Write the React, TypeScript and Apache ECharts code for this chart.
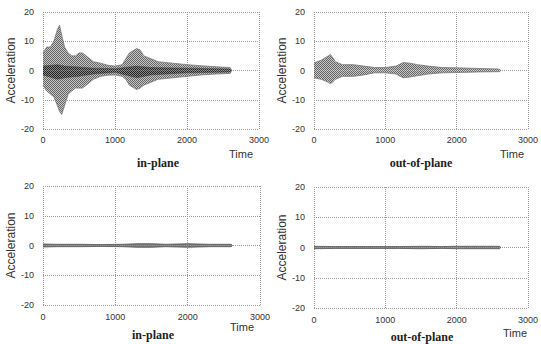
import React, { useEffect, useRef } from "react";
import * as echarts from "echarts";

// Tick labels
const xTicks = [0, 1000, 2000, 3000];
const yTicks = [-20, -10, 0, 10, 20];

// Panel titles
const titles = ["in-plane", "out-of-plane", "in-plane", "out-of-plane"];

// Envelope of the in-plane record (top-left panel)
const t1 = [0, 50, 100, 150, 200, 230, 260, 300, 350, 400, 450, 500, 550, 600, 650, 700, 800, 900, 1000, 1100, 1150, 1200, 1300, 1350, 1400, 1500, 1600, 1800, 2000, 2200, 2400, 2600, 2620];
const up1 = [6, 8, 8, 10, 14, 15.5, 12, 8, 6, 5, 5, 6, 6, 5, 4, 3, 2.5, 1.8, 1.5, 2, 4, 6, 7.5, 7, 5, 4, 3, 2.5, 2, 1.6, 1.3, 1, 0];
const lo1 = [-5, -7, -8, -9, -12, -14, -15, -12, -8, -7, -6, -6, -6, -5, -4, -3, -2, -1.6, -1.5, -2, -3, -5, -6.5, -6, -5, -4, -3, -2.5, -2, -1.5, -1.2, -1, 0];
// darker core of the same record
const tc1 = [0, 200, 300, 500, 700, 1000, 1300, 1500, 2000, 2600, 2620];
const cu1 = [1.5, 2, 1.5, 1.2, 0.8, 0.6, 1.5, 1, 0.8, 0.5, 0];
const cl1 = [-1.5, -3, -2.5, -2, -1.2, -0.6, -2.5, -1.5, -0.8, -0.5, 0];

// Envelope of the out-of-plane record (top-right panel)
const t2 = [0, 100, 200, 230, 260, 300, 400, 550, 700, 850, 1000, 1150, 1250, 1350, 1450, 1600, 1800, 2000, 2300, 2600, 2620];
const up2 = [2.6, 3.5, 5, 5.5, 4.5, 3, 2, 2, 1.5, 1, 1, 1.5, 2.7, 2.5, 2, 1.5, 1, 0.9, 0.7, 0.5, 0];
const lo2 = [-2.5, -3, -4, -4.5, -4, -3, -2, -2, -1.5, -0.8, -0.8, -1.2, -2.5, -2.2, -1.8, -1.2, -0.8, -0.7, -0.5, -0.4, 0];

// Envelope of the in-plane record (bottom-left panel)
const t3 = [0, 200, 500, 800, 1100, 1300, 1500, 1700, 2000, 2300, 2600, 2620];
const up3 = [0.5, 0.4, 0.4, 0.3, 0.4, 0.6, 0.6, 0.4, 0.6, 0.4, 0.4, 0];
const lo3 = [-0.5, -0.4, -0.4, -0.3, -0.4, -0.6, -0.6, -0.4, -0.6, -0.4, -0.4, 0];

// Envelope of the out-of-plane record (bottom-right panel)
const t4 = [0, 300, 600, 900, 1200, 1500, 1800, 2000, 2300, 2600, 2620];
const up4 = [0.4, 0.3, 0.3, 0.3, 0.3, 0.4, 0.3, 0.4, 0.4, 0.4, 0];
const lo4 = [-0.4, -0.3, -0.3, -0.3, -0.3, -0.4, -0.3, -0.4, -0.4, -0.4, 0];

const grids = [
  { left: 43, top: 12, width: 216, height: 117 },
  { left: 314, top: 12, width: 216, height: 117 },
  { left: 43, top: 186, width: 217, height: 119 },
  { left: 314, top: 187, width: 219, height: 121 },
];

const pairs = (ts: number[], vs: number[]) => ts.map((t, i) => [t, vs[i]]);

function makePattern(dark: string, light: string): any {
  const c = document.createElement("canvas");
  c.width = 2;
  c.height = 2;
  const g = c.getContext("2d");
  if (!g) return light;
  g.fillStyle = light;
  g.fillRect(0, 0, 2, 2);
  g.fillStyle = dark;
  g.fillRect(0, 0, 1, 1);
  g.fillRect(1, 1, 1, 1);
  return { image: c, repeat: "repeat" };
}

export default function App() {
  const ref = useRef<HTMLDivElement>(null);
  useEffect(() => {
    if (!ref.current) return;
    const chart = echarts.init(ref.current, undefined, { renderer: "svg" });
    const dotted = { type: "dotted" as const, color: "#9a9a9a", width: 1 };
    const xAxis = grids.map((_, i) => ({
      type: "value" as const,
      gridIndex: i,
      min: xTicks[0],
      max: xTicks[xTicks.length - 1],
      interval: 1000,
      axisLine: { show: false },
      axisTick: { show: false },
      splitLine: { show: true, lineStyle: dotted },
      axisLabel: {
        fontFamily: "Liberation Sans, Arial",
        fontSize: 9,
        color: "#333",
        margin: i < 2 ? 6 : 7,
        formatter: (v: number) => String(v),
      },
    }));
    const yAxis = grids.map((_, i) => ({
      type: "value" as const,
      gridIndex: i,
      min: yTicks[0],
      max: yTicks[yTicks.length - 1],
      interval: 10,
      axisLine: { show: false },
      axisTick: { show: false },
      splitLine: { show: true, lineStyle: dotted },
      axisLabel: { fontFamily: "Liberation Sans, Arial", fontSize: 9, color: "#333", margin: 9 },
      name: "Acceleration",
      nameLocation: "middle" as const,
      nameGap: 22,
      nameTextStyle: { fontFamily: "Liberation Sans, Arial", fontSize: 12, color: "#333" },
    }));
    const midFill = makePattern("#666", "#c4c4c4");
    const coreFill = makePattern("#222", "#888");
    const band = (i: number, ts: number[], vs: number[], fill: any, line: string, w: number) => ({
      type: "line" as const,
      xAxisIndex: i,
      yAxisIndex: i,
      data: pairs(ts, vs),
      symbol: "none",
      silent: true,
      lineStyle: { color: line, width: w },
      areaStyle: { color: fill, opacity: 1, origin: 0 },
      z: 3,
    });
    const series = [
      band(0, t1, up1, midFill, "#777", 0.8),
      band(0, t1, lo1, midFill, "#777", 0.8),
      band(0, tc1, cu1, coreFill, "#444", 0.5),
      band(0, tc1, cl1, coreFill, "#444", 0.5),
      band(1, t2, up2, midFill, "#777", 0.8),
      band(1, t2, lo2, midFill, "#777", 0.8),
      band(2, t3, up3, "#777", "#555", 0.8),
      band(2, t3, lo3, "#777", "#555", 0.8),
      band(3, t4, up4, "#777", "#555", 0.8),
      band(3, t4, lo4, "#777", "#555", 0.8),
    ];
    const titlePos = [
      [158, 163], [421, 163], [153, 335], [422, 337],
    ];
    const timePos = [
      [241, 154], [512, 154], [242, 327], [515, 333],
    ];
    const graphic: any[] = [];
    titles.forEach((t, i) => {
      graphic.push({
        type: "text",
        x: titlePos[i][0],
        y: titlePos[i][1],
        style: {
          text: t,
          fontFamily: "Liberation Serif, Times New Roman, serif",
          fontWeight: "bold",
          fontSize: 12,
          fill: "#222",
          align: "center",
          verticalAlign: "middle",
        },
      });
      graphic.push({
        type: "text",
        x: timePos[i][0],
        y: timePos[i][1],
        style: {
          text: "Time",
          fontFamily: "Liberation Sans, Arial",
          fontSize: 11,
          fill: "#333",
          align: "center",
          verticalAlign: "middle",
        },
      });
    });
    chart.setOption({
      animation: false,
      backgroundColor: "#fff",
      grid: grids,
      xAxis,
      yAxis,
      series,
      graphic,
    });
    return () => chart.dispose();
  }, []);
  return (
    <div
      ref={ref}
      style={{ position: "fixed", left: 0, top: 0, width: 541, height: 344 }}
    />
  );
}
